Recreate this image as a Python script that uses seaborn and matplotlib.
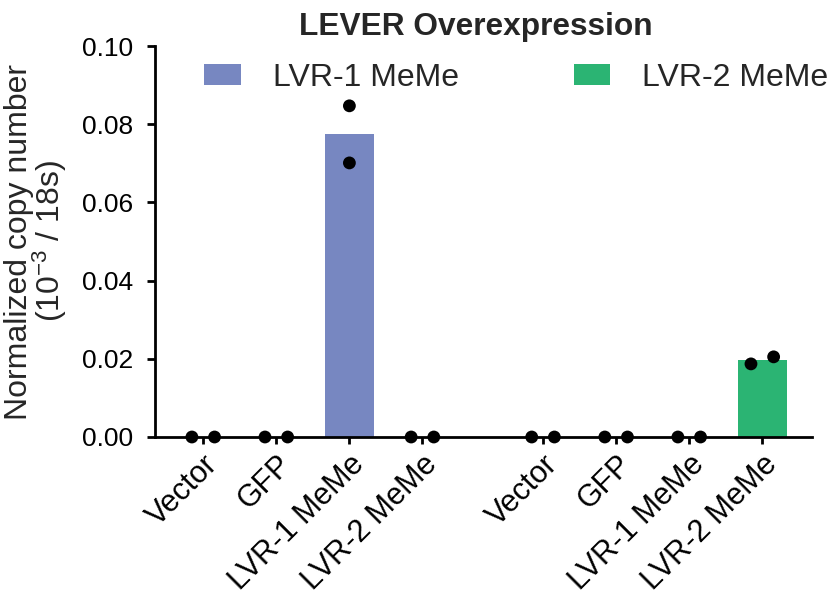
import numpy as np
import pandas as pd
import matplotlib
matplotlib.use("Agg")
import matplotlib.pyplot as plt
import seaborn as sns

# ---- data ----
panels = ["LVR-1 MeMe", "LVR-2 MeMe"]
conditions = ["Vector", "GFP", "LVR-1 MeMe", "LVR-2 MeMe"]
rep1 = [0.0, 0.0, 0.0847, 0.0, 0.0, 0.0, 0.0, 0.0187]
rep2 = [0.0, 0.0, 0.0701, 0.0, 0.0, 0.0, 0.0, 0.0205]
palette = {"LVR-1 MeMe": "#7787C1", "LVR-2 MeMe": "#2BB473"}
title = "LEVER Overexpression"
ylabel = "Normalized copy number\n(10$^{-3}$ / 18s)"
yticks = [0.00, 0.02, 0.04, 0.06, 0.08, 0.10]

sns.set_theme(style="ticks")
plt.rcParams["font.family"] = ["Liberation Sans", "DejaVu Sans"]
plt.rcParams["mathtext.default"] = "regular"

group_gap = 4.65
rows = []
labels = []
positions = []
for g, panel in enumerate(panels):
    for i, cond in enumerate(conditions):
        k = g * len(conditions) + i
        pos = g * group_gap + i
        positions.append(pos)
        labels.append(cond)
        vals = [rep1[k], rep2[k]]
        close = abs(vals[0] - vals[1]) < 0.004
        for r, v in enumerate(vals):
            off = (-0.155 if r == 0 else 0.155) if close else 0.0
            rows.append({"pos": pos, "dot_x": pos + off, "value": v,
                         "panel": panel, "condition": cond})
df = pd.DataFrame(rows)

fig = plt.figure(figsize=(8.3, 5.96), dpi=100)
ax = fig.add_axes([155 / 830, 1 - 437 / 596, (812 - 155) / 830, (437 - 46) / 596])

sns.barplot(data=df, x="pos", y="value", hue="panel", palette=palette,
            native_scale=True, dodge=False, errorbar=None, width=0.67,
            saturation=1, linewidth=0, ax=ax, legend=True)
sns.scatterplot(data=df, x="dot_x", y="value", color="black", s=85,
                edgecolor="none", ax=ax, zorder=5, clip_on=False, legend=False)

ax.set_xlim(-0.66, 8.33)
ax.set_ylim(0, 0.10)
ax.set_yticks(yticks)
ax.set_yticklabels([f"{t:.2f}" for t in yticks])
ax.set_xticks(positions)
ax.set_xticklabels(labels, rotation=45, ha="right", rotation_mode="anchor")
ax.set_xlabel("")
ax.set_ylabel(ylabel, fontsize=23, labelpad=9, linespacing=0.88)
ax.set_title(title, fontsize=22.8, fontweight="bold", x=0.488, pad=8)

for side in ["top", "right"]:
    ax.spines[side].set_visible(False)
for side in ["left", "bottom"]:
    ax.spines[side].set_linewidth(2.0)
    ax.spines[side].set_color("black")
ax.tick_params(axis="both", colors="black", width=2.0)
ax.tick_params(axis="y", length=6, pad=10, labelsize=19)
ax.tick_params(axis="x", length=5, pad=4, labelsize=22)

handles, hl = ax.get_legend_handles_labels()
ax.legend(handles, hl, ncol=2, frameon=False, fontsize=23,
          loc="center left", bbox_to_anchor=(204 / 830, 1 - 78 / 596),
          bbox_transform=fig.transFigure, borderpad=0, borderaxespad=0,
          handlelength=1.15, handleheight=0.62, handletextpad=1.0,
          columnspacing=3.6)

fig.savefig("out.png", dpi=100)
